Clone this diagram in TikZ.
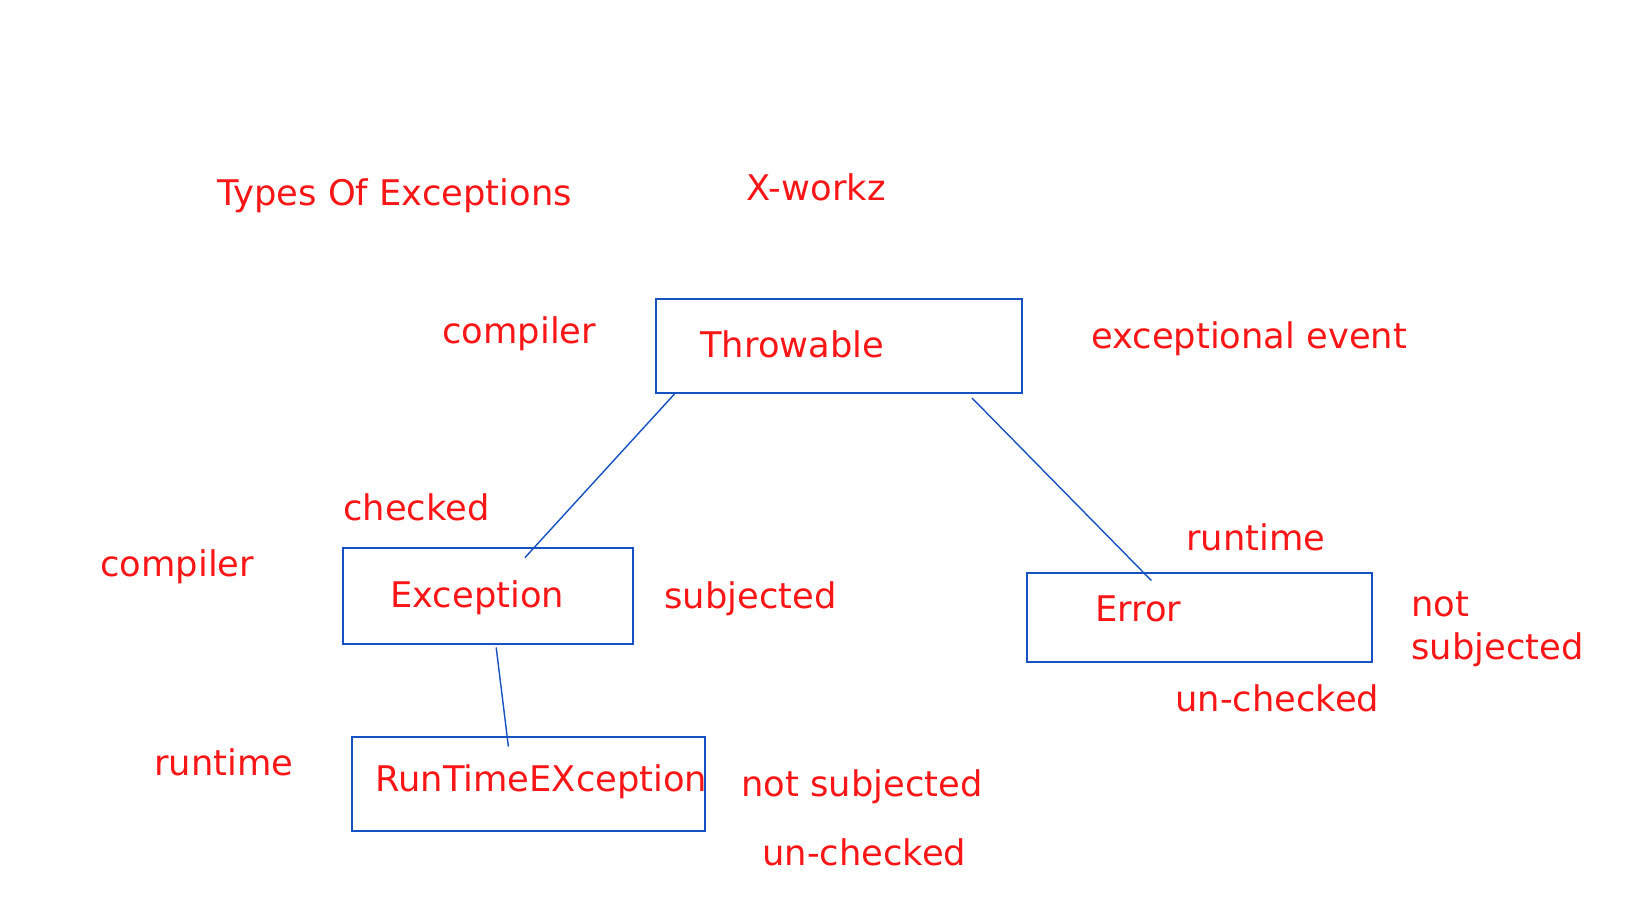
\documentclass[tikz,border=0pt]{standalone}
\usepackage{fontspec}
\setmainfont{DejaVu Sans}
\usepackage{tikz}
\usetikzlibrary{positioning}
\definecolor{notered}{RGB}{250,22,22}
\definecolor{boxblue}{RGB}{22,82,196}

\begin{document}
\begin{tikzpicture}
    [x=0.02cm,y=-0.02cm,
     cls/.style={shape=rectangle,draw=boxblue,line width=0.85pt,inner sep=0},
     txt/.style={anchor=base west,inner sep=0,text=notered,font=\fontsize{20.1}{24.1}\selectfont},
     link/.style={draw=boxblue,line width=0.8pt}]
    \useasboundingbox (0,0) rectangle (1642,910);
    \node [txt] (title) at (217,205) {Types Of Exceptions};
    \node [txt] (brand) at (746,200.7) {X-workz};
    % the class boxes
    \node [cls,minimum width=7.32cm,minimum height=1.88cm] (thr) at (839,346) {};
    \node [cls,minimum width=5.8cm,minimum height=1.92cm] (exc) at (488,596) {};
    \node [cls,minimum width=6.9cm,minimum height=1.78cm] (err) at (1199.5,617.5) {};
    \node [cls,minimum width=7.06cm,minimum height=1.88cm] (rte) at (528.5,784) {};
    \node [txt] (thr-t) at (700,357.7) {Throwable};
    \node [txt] (exc-t) at (390,607.3) {Exception};
    \node [txt] (err-t) at (1094.8,621) {Error};
    \node [txt] (rte-t) at (375,791.7) {RunTimeEXception};
    \draw [link] ([shift={(19.4,0)}]thr.south west) -- ([shift={(182.7,10.3)}]exc.north west);
    \draw [link] ([shift={(-50.7,4.3)}]thr.south east) -- ([shift={(125.1,8.3)}]err.north west);
    \draw [link] ([shift={(153.9,2.7)}]exc.south west) -- ([shift={(157.1,10.3)}]rte.north west);
    % notes
    \node [txt] (thr-n1) at (442,343.3) {compiler};
    \node [txt] (thr-n2) at (1091,348) {exceptional event};
    \node [txt] (exc-n1) at (343,520) {checked};
    \node [txt] (exc-n2) at (100,576.7) {compiler};
    \node [txt] (exc-n3) at (664,608.3) {subjected};
    \node [txt] (err-n1) at (1186,550.7) {runtime};
    \node [txt,align=left] (err-n2) at (1411,659) {not\\subjected};
    \node [txt] (err-n3) at (1175,711) {un-checked};
    \node [txt] (rte-n1) at (154,775) {runtime};
    \node [txt] (rte-n2) at (741,796) {not subjected};
    \node [txt] (rte-n3) at (762,865) {un-checked};
\end{tikzpicture}
\end{document}
